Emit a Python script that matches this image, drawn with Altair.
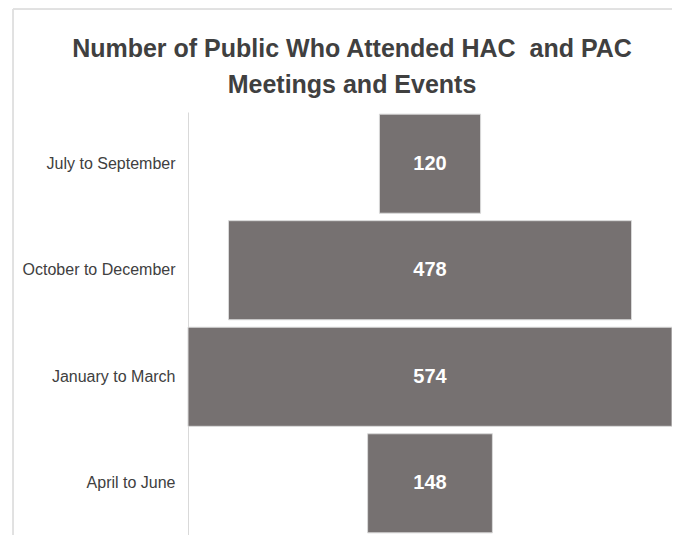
import altair as alt
import pandas as pd

categories = ["July to September", "October to December", "January to March", "April to June"]
values = [120, 478, 574, 148]
title_lines = ["Number of Public Who Attended HAC\u00a0 and PAC", "Meetings and Events"]

df = pd.DataFrame({"period": categories, "count": values})

FONT = "Liberation Sans"

base = alt.Chart(df).transform_calculate(
    lo="-datum.count / 2", hi="datum.count / 2"
)

y_enc = alt.Y(
    "period:N",
    sort=categories,
    scale=alt.Scale(paddingInner=0.07, paddingOuter=0.02),
    axis=alt.Axis(
        title=None, ticks=False, labelFont=FONT, labelFontSize=16,
        labelColor="#404040", labelPadding=13, domainColor="#d9d9d9",
        domainWidth=1,
    ),
)

bars = base.mark_bar(color="#767171", stroke="#d9d9d9", strokeWidth=1).encode(
    x=alt.X("lo:Q", scale=alt.Scale(domain=[-287, 287]), axis=None),
    x2="hi:Q",
    y=y_enc,
)

labels = base.mark_text(
    color="white", font=FONT, fontWeight="bold", fontSize=20, baseline="middle"
).encode(
    x=alt.value(242),
    y=alt.Y("period:N", sort=categories),
    text=alt.Text("count:Q"),
)

title1 = alt.Chart(pd.DataFrame({"t": [title_lines[0]]})).mark_text(
    font=FONT, fontWeight="bold", fontSize=25, color="#404040", baseline="alphabetic"
).encode(x=alt.value(164), y=alt.value(-55), text="t:N")
title2 = alt.Chart(pd.DataFrame({"t": [title_lines[1]]})).mark_text(
    font=FONT, fontWeight="bold", fontSize=25, color="#404040", baseline="alphabetic"
).encode(x=alt.value(164), y=alt.value(-19), text="t:N")

frame_top = alt.Chart(df).mark_rule(color="#e0e0e0", strokeWidth=1).encode(
    x=alt.value(-175), x2=alt.value(484), y=alt.value(-103)
)
frame_left = alt.Chart(df).mark_rule(color="#e0e0e0", strokeWidth=1).encode(
    x=alt.value(-175), y=alt.value(-103), y2=alt.value(423)
)

chart = alt.layer(frame_top, frame_left, title1, title2, bars, labels).properties(
    width=484,
    height=423,
    autosize="none",
    padding={"left": 180, "top": 104, "right": 0, "bottom": 0},
).configure_view(stroke=None)

chart.save("out.html", embed_options={"renderer": "svg", "actions": False})
